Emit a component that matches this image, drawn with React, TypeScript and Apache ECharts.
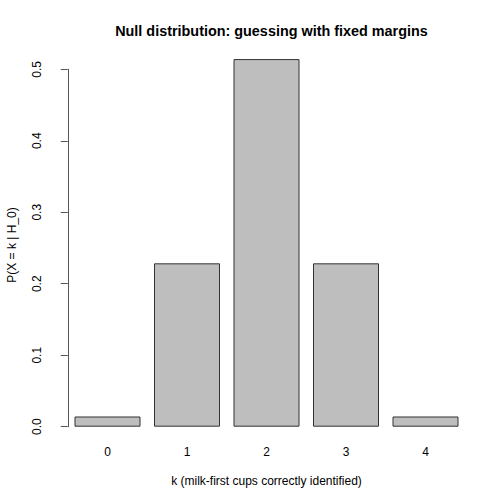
import React, { useEffect, useRef } from "react";
import * as echarts from "echarts";

const categories = ["0", "1", "2", "3", "4"];
const probabilities = [1 / 70, 16 / 70, 36 / 70, 16 / 70, 1 / 70];
const yTicks = [0, 0.1, 0.2, 0.3, 0.4, 0.5];
const titleText = "Null distribution: guessing with fixed margins";
const xTitle = "k (milk-first cups correctly identified)";
const yTitle = "P(X = k | H_0)";

const FONT = "Liberation Sans, Arial, Helvetica, sans-serif";
const GRID_LEFT = 67.75;
const GRID_WIDTH = 397.5;
const AXIS_X = 59;
const Y_MAX = 0.52;
const GRID_BOTTOM = 77.3;
const PX_PER_UNIT = 714.8;
const GRID_TOP = 504 - GRID_BOTTOM - Y_MAX * PX_PER_UNIT;
const AXIS_TOP = 504 - GRID_BOTTOM - yTicks[yTicks.length - 1] * PX_PER_UNIT;

export default function App() {
  const ref = useRef<HTMLDivElement>(null);
  useEffect(() => {
    document.body.style.margin = "0";
    if (!ref.current) return;
    const chart = echarts.init(ref.current, undefined, { renderer: "svg" });
    chart.setOption({
      animation: false,
      backgroundColor: "#ffffff",
      title: {
        text: titleText,
        left: 266.5,
        top: 19,
        textAlign: "center",
        textStyle: { fontFamily: FONT, fontSize: 14.4, fontWeight: "bold", color: "#000" },
      },
      grid: [
        { left: GRID_LEFT, width: GRID_WIDTH, top: GRID_TOP, bottom: GRID_BOTTOM },
        { left: GRID_LEFT, width: GRID_WIDTH, top: AXIS_TOP, bottom: GRID_BOTTOM },
      ],
      xAxis: [
        {
          type: "category",
          gridIndex: 0,
          data: categories,
          axisLine: { show: false },
          axisTick: { show: false },
          axisLabel: { margin: 19, fontFamily: FONT, fontSize: 12, color: "#000" },
          splitLine: { show: false },
        },
        {
          type: "value",
          gridIndex: 1,
          show: false,
        },
      ],
      yAxis: [
        {
          type: "value",
          gridIndex: 0,
          min: 0,
          max: Y_MAX,
          show: false,
        },
        {
          type: "value",
          gridIndex: 1,
          min: yTicks[0],
          max: yTicks[yTicks.length - 1],
          interval: 0.1,
          offset: GRID_LEFT - AXIS_X,
          axisLine: { show: true, lineStyle: { color: "#555", width: 1 } },
          axisTick: { show: true, length: 7, lineStyle: { color: "#555", width: 1 } },
          axisLabel: {
            rotate: 90,
            margin: 16,
            fontFamily: FONT,
            fontSize: 12,
            color: "#000",
            formatter: (v: number) => v.toFixed(1),
          },
          splitLine: { show: false },
        },
      ],
      series: [
        {
          type: "bar",
          xAxisIndex: 0,
          yAxisIndex: 0,
          data: probabilities,
          barWidth: 66,
          itemStyle: { color: "#bebebe", borderColor: "#333", borderWidth: 1 },
        },
      ],
      graphic: [
        {
          type: "text",
          x: 266.5,
          y: 481,
          style: {
            text: xTitle,
            fontFamily: FONT,
            fontSize: 12,
            fill: "#000",
            align: "center",
            verticalAlign: "middle",
          },
        },
        {
          type: "text",
          x: 12,
          y: 245,
          rotation: Math.PI / 2,
          style: {
            text: yTitle,
            fontFamily: FONT,
            fontSize: 12,
            fill: "#000",
            align: "center",
            verticalAlign: "middle",
          },
        },
      ],
    });
    return () => chart.dispose();
  }, []);
  return <div ref={ref} style={{ width: 504, height: 504 }} />;
}
